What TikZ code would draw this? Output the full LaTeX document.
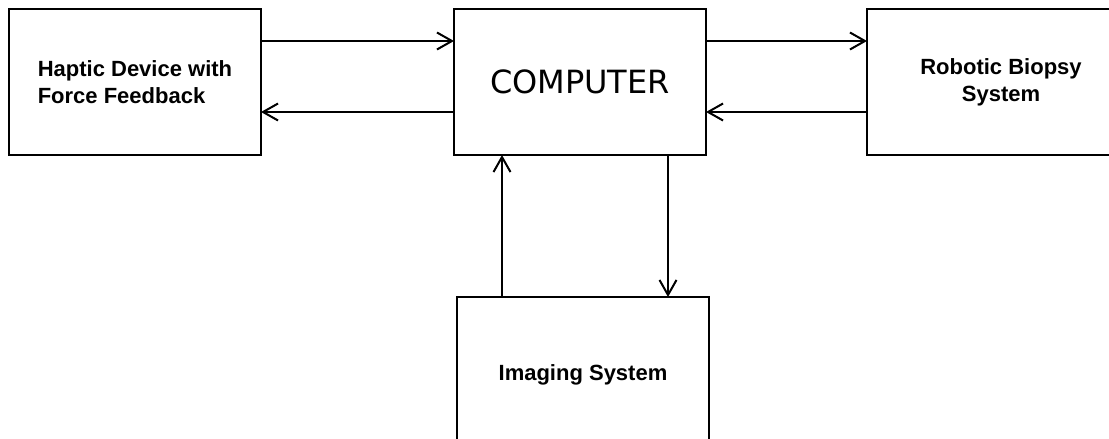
\documentclass[tikz,border=0pt]{standalone}
\usepackage{fontspec}
\setmainfont{Liberation Sans}
\newfontfamily\compfont{DejaVu Sans}
\usetikzlibrary{arrows.meta,positioning}

\begin{document}
\begin{tikzpicture}[
    x=0.5pt, y=-0.5pt,
    box/.style={rectangle, draw=black, line width=0.9pt, outer sep=0pt,
                minimum width=126pt, minimum height=73pt,
                align=center, font=\fontsize{11}{13.5}\selectfont\bfseries},
    arr/.style={-{Straight Barb[length=7.5pt,width=8.5pt,line width=1pt]}, line width=0.65pt, draw=black}
]
    \clip (0,0) rectangle (1109,439);

    \node[box, align=left] (haptic) at (135,82) {Haptic Device with\\Force Feedback};
    \node[box, right=96.5pt of haptic, font=\compfont\fontsize{16}{19}\selectfont] (computer) {COMPUTER};
    \node[box, right=80.5pt of computer, minimum width=134pt] (robotic) {Robotic Biopsy\\System};
    \node[box, below=71pt of computer, xshift=1.5pt, minimum height=78pt] (imaging) {Imaging System};

    \draw[arr] ([yshift=20.5pt]haptic.east) -- ([yshift=20.5pt]computer.west);
    \draw[arr] ([yshift=-15pt]computer.west) -- ([yshift=-15pt]haptic.east);
    \draw[arr] ([yshift=20.5pt]computer.east) -- ([yshift=20.5pt]robotic.west);
    \draw[arr] ([yshift=-15pt]robotic.west) -- ([yshift=-15pt]computer.east);
    \draw[arr] ([xshift=-39pt]computer.south |- imaging.north) -- ([xshift=-39pt]computer.south);
    \draw[arr] ([xshift=44pt]computer.south) -- ([xshift=44pt]computer.south |- imaging.north);
\end{tikzpicture}
\end{document}
